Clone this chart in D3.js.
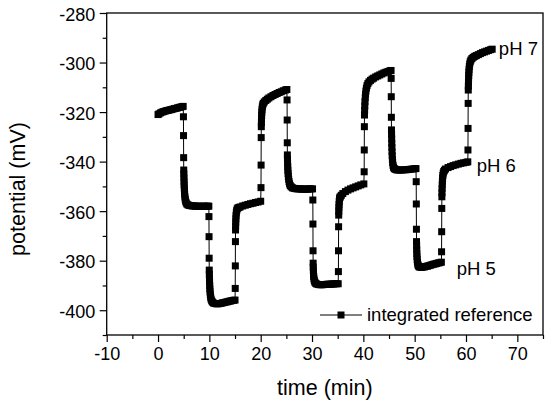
<!DOCTYPE html>
<html>
<head>
<meta charset="utf-8">
<script src="https://cdnjs.cloudflare.com/ajax/libs/d3/7.8.5/d3.min.js"></script>
<style>
  body { margin: 0; background: #fff; }
  svg { display: block; font-family: "Liberation Sans", Arial, Helvetica, sans-serif; }
</style>
</head>
<body>
<div id="chart"></div>
<script>

// [time (min), potential (mV)], one array per buffer step
// the first few points of each step are the fast jump after the solution change
var pH7_1 = [[0, -321.0], [0.2, -320.7], [0.5, -320.3], [0.8, -320.0], [1.1, -319.8], [1.4, -319.6],
  [1.7, -319.4], [2.0, -319.3], [2.3, -319.1], [2.6, -319.0], [2.9, -318.8], [3.2, -318.6],
  [3.5, -318.5], [3.8, -318.3], [4.1, -318.1], [4.4, -318.0], [4.7, -317.8], [4.9, -317.7]];

var pH6_1 = [[4.95, -321.9], [4.97, -329.5], [4.99, -338.4],
  [5.01, -343.4], [5.03, -345.0], [5.05, -346.5], [5.07, -348.0], [5.09, -349.4], [5.12, -350.7],
  [5.15, -352.0], [5.19, -353.2], [5.24, -354.3], [5.3, -355.2], [5.38, -356.0], [5.5, -356.7],
  [5.65, -357.2], [5.85, -357.5], [6.1, -357.7], [6.4, -357.8], [6.7, -357.9], [7.0, -357.9],
  [7.3, -358.0], [7.6, -358.0], [7.9, -358.0], [8.2, -358.0], [8.5, -358.1], [8.8, -358.0],
  [9.1, -358.0], [9.4, -358.0], [9.7, -358.0], [9.9, -358.0]];

var pH5_1 = [[9.92, -362.2], [9.94, -370.3], [9.96, -379.0],
  [9.98, -383.8], [10.0, -385.5], [10.02, -387.0], [10.04, -388.5], [10.07, -390.0], [10.1, -391.4],
  [10.14, -392.6], [10.19, -393.7], [10.25, -394.7], [10.33, -395.5], [10.45, -396.2], [10.6, -396.7],
  [10.8, -397.1], [11.1, -397.3], [11.4, -397.4], [11.7, -397.4], [12.0, -397.3], [12.3, -397.2],
  [12.6, -397.0], [12.9, -396.9], [13.2, -396.7], [13.5, -396.6], [13.8, -396.4], [14.1, -396.3],
  [14.4, -396.1], [14.7, -396.0], [15.0, -395.9]];

var pH6_2 = [[15.04, -391.2], [15.06, -382.1], [15.08, -372.3],
  [15.1, -367.6], [15.12, -366.0], [15.14, -364.5], [15.17, -363.1], [15.2, -361.8], [15.25, -360.7],
  [15.32, -359.8], [15.42, -359.1], [15.55, -358.7], [15.75, -358.5], [16.0, -358.3], [16.5, -357.9],
  [17.0, -357.6], [17.5, -357.3], [18.0, -357.0], [18.5, -356.8], [19.0, -356.5], [19.5, -356.3],
  [20.0, -356.0]];

var pH7_2 = [[20.06, -350.5], [20.08, -341.4], [20.1, -330.3],
  [20.12, -325.9], [20.14, -324.2], [20.16, -322.7], [20.19, -321.3], [20.22, -320.0], [20.26, -318.9],
  [20.32, -317.9], [20.4, -317.1], [20.5, -316.5], [20.7, -315.9], [21.0, -315.3], [21.3, -314.8],
  [21.6, -314.3], [22.0, -313.8], [22.4, -313.3], [22.8, -312.9], [23.2, -312.5], [23.6, -312.1],
  [24.0, -311.8], [24.4, -311.4], [24.8, -311.1], [25.1, -310.9]];

var pH6_3 = [[25.14, -315.1], [25.16, -323.2], [25.18, -332.4],
  [25.2, -337.3], [25.22, -339.0], [25.24, -340.6], [25.27, -342.1], [25.3, -343.5], [25.34, -344.8],
  [25.39, -346.0], [25.45, -347.1], [25.53, -348.1], [25.63, -349.0], [25.76, -349.7], [25.95, -350.2],
  [26.2, -350.6], [26.5, -350.8], [26.8, -350.9], [27.1, -351.0], [27.4, -351.0], [27.7, -351.0],
  [28.0, -351.1], [28.3, -351.1], [28.6, -351.1], [28.9, -351.1], [29.2, -351.1], [29.5, -351.0],
  [29.8, -351.0], [30.1, -351.0]];

var pH5_2 = [[30.16, -355.5], [30.18, -365.2], [30.2, -376.0],
  [30.22, -381.0], [30.24, -382.6], [30.26, -384.0], [30.29, -385.3], [30.33, -386.4], [30.38, -387.3],
  [30.45, -388.1], [30.55, -388.7], [30.7, -389.1], [30.9, -389.4], [31.2, -389.6], [31.5, -389.7],
  [31.8, -389.7], [32.1, -389.7], [32.4, -389.6], [32.7, -389.6], [33.0, -389.5], [33.3, -389.5],
  [33.6, -389.5], [33.9, -389.4], [34.2, -389.4], [34.5, -389.3], [34.8, -389.3], [35.1, -389.3]];

var pH6_4 = [[35.14, -384.4], [35.16, -376.0], [35.18, -366.3],
  [35.2, -361.6], [35.22, -360.0], [35.24, -358.6], [35.27, -357.3], [35.3, -356.1], [35.35, -355.1],
  [35.42, -354.5], [35.5, -354.2], [35.7, -353.6], [36.0, -352.9], [36.5, -352.1], [37.0, -351.5],
  [37.5, -351.0], [38.0, -350.6], [38.5, -350.2], [39.0, -349.8], [39.5, -349.4], [40.1, -349.0]];

var pH7_3 = [[40.16, -344.1], [40.18, -335.3], [40.2, -325.9],
  [40.22, -321.2], [40.25, -319.3], [40.28, -317.5], [40.32, -315.8], [40.37, -314.2], [40.43, -312.8],
  [40.5, -311.5], [40.6, -310.3], [40.72, -309.3], [40.88, -308.5], [41.1, -307.8], [41.4, -307.2],
  [41.7, -306.7], [42.0, -306.3], [42.4, -305.8], [42.8, -305.4], [43.2, -305.0], [43.6, -304.6],
  [44.0, -304.2], [44.4, -303.9], [44.8, -303.6], [45.2, -303.3], [45.4, -303.2]];

var pH6_5 = [[45.42, -306.4], [45.44, -313.8], [45.46, -322.1],
  [45.48, -327.2], [45.5, -329.0], [45.52, -330.8], [45.54, -332.6], [45.56, -334.3], [45.59, -336.0],
  [45.62, -337.6], [45.66, -339.1], [45.71, -340.4], [45.78, -341.5], [45.88, -342.3], [46.02, -342.8],
  [46.2, -343.1], [46.45, -343.3], [46.75, -343.4], [47.1, -343.4], [47.5, -343.4], [47.9, -343.3],
  [48.3, -343.3], [48.7, -343.2], [49.1, -343.1], [49.5, -343.0], [49.9, -342.9], [50.25, -342.8]];

var pH5_3 = [[50.3, -348.1], [50.32, -357.1], [50.34, -367.3],
  [50.36, -372.3], [50.38, -374.0], [50.4, -375.6], [50.42, -377.1], [50.45, -378.4], [50.49, -379.6],
  [50.54, -380.6], [50.61, -381.4], [50.7, -382.0], [50.83, -382.4], [51.0, -382.6], [51.3, -382.7],
  [51.6, -382.6], [51.9, -382.5], [52.2, -382.3], [52.5, -382.2], [52.8, -382.0], [53.1, -381.8],
  [53.4, -381.6], [53.7, -381.4], [54.0, -381.3], [54.3, -381.1], [54.6, -380.9], [54.9, -380.8],
  [55.2, -380.6]];

var pH6_6 = [[55.24, -376.4], [55.26, -368.3], [55.28, -358.9],
  [55.3, -354.2], [55.32, -352.5], [55.34, -350.9], [55.37, -349.4], [55.4, -348.0], [55.44, -346.7],
  [55.49, -345.6], [55.56, -344.7], [55.66, -344.0], [55.8, -343.5], [56.0, -343.0], [56.5, -342.4],
  [57.0, -342.0], [57.5, -341.6], [58.0, -341.3], [58.5, -341.0], [59.0, -340.7], [59.5, -340.5],
  [60.0, -340.3], [60.35, -340.1]];

var pH7_4 = [[60.38, -335.3], [60.4, -326.6], [60.42, -316.5],
  [60.44, -311.1], [60.46, -309.5], [60.48, -308.0], [60.5, -306.6], [60.53, -305.2], [60.56, -303.9],
  [60.6, -302.7], [60.65, -301.6], [60.72, -300.6], [60.82, -299.7], [60.95, -299.0], [61.15, -298.4],
  [61.4, -297.9], [61.7, -297.5], [62.0, -297.2], [62.4, -296.8], [62.8, -296.4], [63.2, -296.0],
  [63.6, -295.7], [64.0, -295.4], [64.4, -295.1], [64.8, -294.8], [65.1, -294.6]];

var xTicks = [-10, 0, 10, 20, 30, 40, 50, 60, 70];
var xMinor = [-5, 5, 15, 25, 35, 45, 55, 65, 75];
var yTicks = [-400, -380, -360, -340, -320, -300, -280];
var yMinor = [-410, -390, -370, -350, -330, -310, -290];

// pH annotations, [label, time, potential] in data units
var pHLabels = [['pH 7', 66.4, -297.0], ['pH 6', 62.1, -344.1], ['pH 5', 58.2, -385.8]];

var seriesName = 'integrated reference';

var width = 550, height = 404;
var plot = {left: 106.7, right: 543, top: 13, bottom: 335};

var svg = d3.select('#chart')
  .append('svg')
    .attr('width', width)
    .attr('height', height);

var x = d3.scaleLinear().domain([-10, 75]).range([plot.left, plot.right]);
var y = d3.scaleLinear().domain([-410, -280]).range([plot.bottom, plot.top]);

var points = [].concat(pH7_1, pH6_1, pH5_1, pH6_2, pH7_2, pH6_3, pH5_2,
  pH6_4, pH7_3, pH6_5, pH5_3, pH6_6, pH7_4);

// plain hyphen like the original, not the unicode minus d3.format gives
var plainNum = function(d){ return String(d); };

//////////////////
// axes         //
//////////////////

var styleAxis = function(g, size){
  g.select('.domain').remove();
  g.selectAll('.tick line').attr('stroke', '#000').attr('stroke-width', 1.2);
  g.selectAll('.tick text')
    .attr('fill', '#000')
    .style('font-size', size + 'px')
    .style('font-family', '"Liberation Sans", Arial, sans-serif');
};

svg.append('g')
    .attr('transform', 'translate(0,' + plot.bottom + ')')
    .call(d3.axisBottom(x).tickValues(xMinor).tickSize(4).tickFormat(''))
    .call(styleAxis, 18);

svg.append('g')
    .attr('transform', 'translate(0,' + plot.bottom + ')')
    .call(d3.axisBottom(x).tickValues(xTicks).tickSize(7).tickPadding(5).tickFormat(plainNum))
    .call(styleAxis, 18);

svg.append('g')
    .attr('transform', 'translate(' + plot.left + ',0)')
    .call(d3.axisLeft(y).tickValues(yMinor).tickSize(4).tickFormat(''))
    .call(styleAxis, 18);

var yAxis = svg.append('g')
    .attr('transform', 'translate(' + plot.left + ',0)')
    .call(d3.axisLeft(y).tickValues(yTicks).tickSize(7).tickPadding(4.5).tickFormat(plainNum))
    .call(styleAxis, 18);
yAxis.selectAll('.tick text').attr('dy', '0.4em');

// frame
svg.append('rect')
    .attr('x', plot.left)
    .attr('y', plot.top)
    .attr('width', plot.right - plot.left)
    .attr('height', plot.bottom - plot.top)
    .attr('fill', 'none')
    .attr('stroke', '#000')
    .attr('stroke-width', 1.3);

svg.append('text')
    .attr('x', (plot.left + plot.right) / 2)
    .attr('y', 395)
    .attr('text-anchor', 'middle')
    .style('font-size', '21.5px')
    .text('time (min)');

svg.append('text')
    .attr('transform', 'translate(25,189) rotate(-90)')
    .attr('text-anchor', 'middle')
    .style('font-size', '21.5px')
    .text('potential (mV)');

//////////////////
// trace        //
//////////////////

var line = d3.line()
  .x(function(d){ return x(d[0]); })
  .y(function(d){ return y(d[1]); });

svg.append('path')
    .datum(points)
    .attr('d', line)
    .attr('fill', 'none')
    .attr('stroke', '#000')
    .attr('stroke-width', 1);

var mk = 7;
svg.append('g').selectAll('rect')
    .data(points)
  .enter().append('rect')
    .attr('x', function(d){ return x(d[0]) - mk / 2; })
    .attr('y', function(d){ return y(d[1]) - mk / 2; })
    .attr('width', mk)
    .attr('height', mk)
    .attr('fill', '#000');

svg.append('g').selectAll('text')
    .data(pHLabels)
  .enter().append('text')
    .attr('x', function(d){ return x(d[1]); })
    .attr('y', function(d){ return y(d[2]); })
    .style('font-size', '18.5px')
    .text(function(d){ return d[0]; });

//////////////////
// legend       //
//////////////////

var legend = svg.append('g').attr('transform', 'translate(320,315)');
legend.append('line')
    .attr('x1', 0).attr('x2', 42)
    .attr('stroke', '#000')
    .attr('stroke-width', 1);
legend.append('rect')
    .attr('x', 21 - mk / 2).attr('y', -mk / 2)
    .attr('width', mk).attr('height', mk)
    .attr('fill', '#000');
legend.append('text')
    .attr('x', 47)
    .attr('y', 6)
    .style('font-size', '18.5px')
    .text(seriesName);

</script>
</body>
</html>
